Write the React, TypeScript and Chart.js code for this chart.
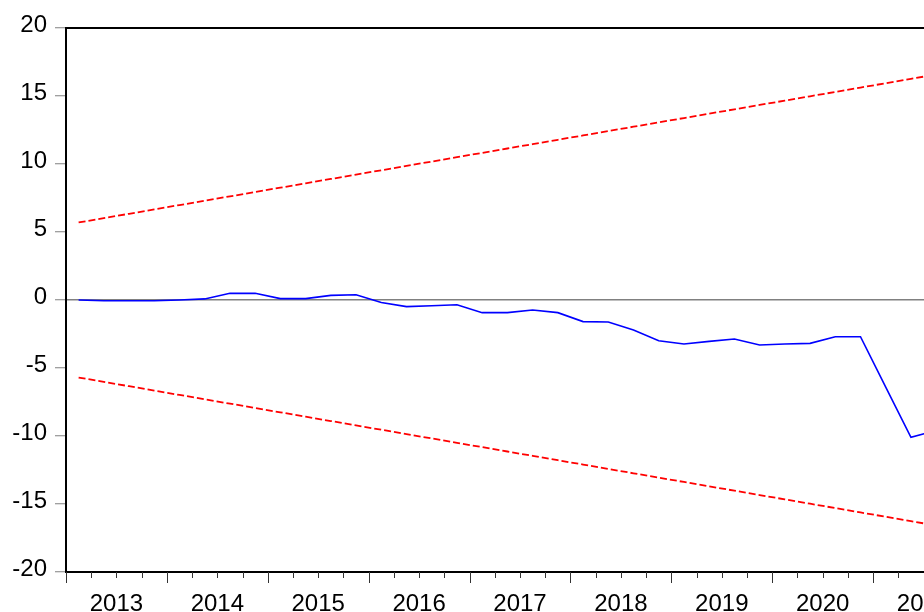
import React, { useEffect, useRef } from "react";
import { Chart, registerables } from "chart.js";

Chart.register(...registerables);

// Quarterly observations (CUSUM test)
const quarters = [
  "2013Q1", "2013Q2", "2013Q3", "2013Q4",
  "2014Q1", "2014Q2", "2014Q3", "2014Q4",
  "2015Q1", "2015Q2", "2015Q3", "2015Q4",
  "2016Q1", "2016Q2", "2016Q3", "2016Q4",
  "2017Q1", "2017Q2", "2017Q3", "2017Q4",
  "2018Q1", "2018Q2", "2018Q3", "2018Q4",
  "2019Q1", "2019Q2", "2019Q3", "2019Q4",
  "2020Q1", "2020Q2", "2020Q3", "2020Q4",
  "2021Q1", "2021Q2", "2021Q3",
];

const cusum = [
  0.0, -0.05, -0.05, -0.05,
  0.0, 0.08, 0.49, 0.49,
  0.1, 0.1, 0.34, 0.39,
  -0.19, -0.49, -0.42, -0.35,
  -0.93, -0.93, -0.74, -0.93,
  -1.59, -1.62, -2.2, -3.0,
  -3.24, -3.04, -2.87, -3.31,
  -3.24, -3.19, -2.7, -2.7,
  -6.4, -10.1, -9.6,
];

const upper5 = [
  5.7, 6.02, 6.34, 6.66,
  6.98, 7.3, 7.62, 7.94,
  8.26, 8.58, 8.9, 9.22,
  9.54, 9.86, 10.18, 10.5,
  10.82, 11.14, 11.46, 11.78,
  12.1, 12.42, 12.74, 13.06,
  13.38, 13.7, 14.02, 14.34,
  14.66, 14.98, 15.3, 15.62,
  15.94, 16.26, 16.58,
];

const lower5 = [
  -5.7, -6.02, -6.34, -6.66,
  -6.98, -7.3, -7.62, -7.94,
  -8.26, -8.58, -8.9, -9.22,
  -9.54, -9.86, -10.18, -10.5,
  -10.82, -11.14, -11.46, -11.78,
  -12.1, -12.42, -12.74, -13.06,
  -13.38, -13.7, -14.02, -14.34,
  -14.66, -14.98, -15.3, -15.62,
  -15.94, -16.26, -16.58,
];

const yearLabels = ["2013", "2014", "2015", "2016", "2017", "2018", "2019", "2020", "2021"];
const yMin = -20;
const yMax = 20;
const yStep = 5;
const xStartYear = 2013;
const xEndYear = 2022;

const quarterToX = (q: string) => {
  const year = parseInt(q.slice(0, 4), 10);
  const qn = parseInt(q.slice(5), 10);
  return year + (qn - 0.5) / 4;
};

const FONT = "'Liberation Sans', Arial, sans-serif";

const frame = {
  id: "frame",
  afterDraw(chart: any) {
    const { ctx, chartArea } = chart;
    const xs = chart.scales.x;
    ctx.save();
    // top border
    ctx.strokeStyle = "#000";
    ctx.lineWidth = 2;
    ctx.beginPath();
    ctx.moveTo(chartArea.left - 1, chartArea.top);
    ctx.lineTo(chartArea.right, chartArea.top);
    ctx.stroke();
    // x tick marks: major at years, minor at quarters
    ctx.strokeStyle = "#333";
    ctx.lineWidth = 1;
    for (let y = xStartYear; y <= xEndYear; y++) {
      for (let k = 0; k < 4; k++) {
        const v = y + k / 4;
        if (v > xEndYear) break;
        const px = Math.round(xs.getPixelForValue(v)) + 0.5;
        const len = k === 0 ? 11 : 6;
        ctx.beginPath();
        ctx.moveTo(px, chartArea.bottom);
        ctx.lineTo(px, chartArea.bottom + len);
        ctx.stroke();
      }
    }
    ctx.restore();
  },
};

export default function App() {
  const ref = useRef<HTMLCanvasElement | null>(null);

  useEffect(() => {
    if (!ref.current) return;
    const xs = quarters.map(quarterToX);
    const mk = (vals: number[]) => vals.map((v, i) => ({ x: xs[i], y: v }));
    const chart = new Chart(ref.current, {
      type: "line",
      data: {
        datasets: [
          {
            label: "CUSUM",
            data: mk(cusum),
            borderColor: "#0000ff",
            borderWidth: 1.6,
            pointRadius: 0,
            tension: 0,
          },
          {
            label: "5% Significance",
            data: mk(upper5),
            borderColor: "#ff0000",
            borderWidth: 1.8,
            borderDash: [7, 3],
            pointRadius: 0,
            tension: 0,
          },
          {
            label: "5% Significance (lower)",
            data: mk(lower5),
            borderColor: "#ff0000",
            borderWidth: 1.8,
            borderDash: [7, 3],
            pointRadius: 0,
            tension: 0,
          },
        ],
      },
      options: {
        animation: false,
        responsive: false,
        devicePixelRatio: 1,
        layout: { padding: { top: 28, right: 16, bottom: 0, left: 0 } },
        plugins: { legend: { display: false }, tooltip: { enabled: false } },
        scales: {
          x: {
            type: "linear",
            min: xStartYear,
            max: xEndYear,
            afterFit: (s: any) => {
              s.height = 40;
            },
            afterBuildTicks: (s: any) => {
              s.ticks = yearLabels.map((_, i) => ({ value: xStartYear + i + 0.5 }));
            },
            ticks: {
              autoSkip: false,
              maxRotation: 0,
              padding: 18,
              color: "#000",
              font: { family: FONT, size: 24 },
              callback: (v: any) => {
                const idx = Math.floor(Number(v)) - xStartYear;
                return yearLabels[idx] ?? "";
              },
            },
            grid: { display: false, drawTicks: false },
            border: { display: true, color: "#000", width: 2 },
          },
          y: {
            min: yMin,
            max: yMax,
            afterFit: (s: any) => {
              s.width = 66;
            },
            ticks: {
              stepSize: yStep,
              padding: 8,
              labelOffset: -3,
              color: "#000",
              font: { family: FONT, size: 24 },
            },
            grid: {
              drawOnChartArea: true,
              color: (c: any) => (c.tick && c.tick.value === 0 ? "#808080" : "rgba(0,0,0,0)"),
              lineWidth: 1.5,
              tickColor: "#808080",
              tickLength: 11,
              tickWidth: 1,
            },
            border: { display: true, color: "#000", width: 2 },
          },
        },
      },
      plugins: [frame],
    });
    return () => chart.destroy();
  }, []);

  return (
    <div
      style={{
        position: "fixed",
        left: 0,
        top: 0,
        width: 924,
        height: 612,
        overflow: "hidden",
        background: "#fff",
      }}
    >
      <canvas ref={ref} width={990} height={612} style={{ display: "block", width: 990, height: 612 }} />
    </div>
  );
}
